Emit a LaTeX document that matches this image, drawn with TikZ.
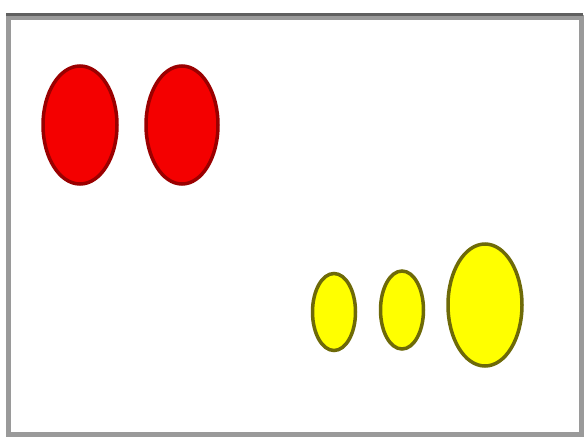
\documentclass[tikz,border=0pt]{standalone}
\usetikzlibrary{shapes.geometric}
\definecolor{framegray}{HTML}{9A9A9A}
\definecolor{redfill}{HTML}{F40000}
\definecolor{redline}{HTML}{9A0000}
\definecolor{yelfill}{HTML}{FFFF00}
\definecolor{yelline}{HTML}{6E6A08}
\tikzset{
  redblob/.style={ellipse, draw=redline, fill=redfill, line width=3.5pt, inner sep=0pt},
  yelblob/.style={ellipse, draw=yelline, fill=yelfill, line width=3.5pt, inner sep=0pt},
}
\begin{document}
\begin{tikzpicture}[x=1pt,y=-1pt]
\useasboundingbox (0,0) rectangle (587,440);
\fill[white] (0,0) rectangle (587,440);
\draw[framegray, line width=5pt] (8.5,17) rectangle (581,434);
\draw[gray!75!black, line width=3pt] (6,14.5) -- (583,14.5);
\node[redblob, minimum width=74pt, minimum height=118pt] (r1) at (80,125) {};
\node[redblob, minimum width=72pt, minimum height=118pt] (r2) at (182,125) {};
\node[yelblob, minimum width=43pt, minimum height=77pt] (y1) at (334,312) {};
\node[yelblob, minimum width=43pt, minimum height=78pt] (y2) at (402,310) {};
\node[yelblob, minimum width=74pt, minimum height=122pt] (y3) at (485,305) {};
\end{tikzpicture}
\end{document}
